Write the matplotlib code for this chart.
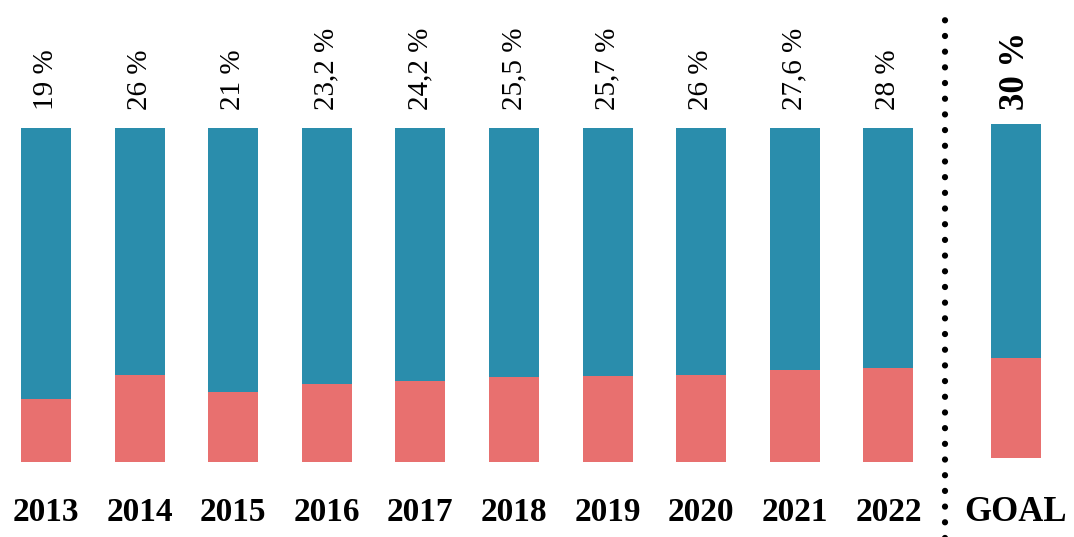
import matplotlib.pyplot as plt
import numpy as np

years = ['2013', '2014', '2015', '2016', '2017', '2018', '2019', '2020', '2021', '2022']
values = [19, 26, 21, 23.2, 24.2, 25.5, 25.7, 26, 27.6, 28]
goal_label = 'GOAL'
goal_value = 30

blue = '#2a8dac'
red = '#e8706f'

plt.rcParams['font.family'] = ['Liberation Serif', 'DejaVu Serif']

fig = plt.figure(figsize=(10.74, 5.37), dpi=100)
ax = fig.add_axes([0, 0, 1, 1])
ax.axis('off')

x = np.arange(len(years))
vals = np.array(values)
w = 0.534

# red part = share, blue = rest up to 100 %
ax.bar(x, vals, w, color=red)
ax.bar(x, 100 - vals, w, bottom=vals, color=blue)

gx = 10.36
ax.bar(gx, goal_value, w, bottom=1.2, color=red)
ax.bar(gx, 100 - goal_value, w, bottom=1.2 + goal_value, color=blue)

def fmt(v):
    s = ('%g' % v).replace('.', ',')
    return s + ' %'

for xi, v in zip(x, values):
    ax.text(xi, 105.5, fmt(v), rotation=90, ha='center', va='bottom', fontsize=21)
ax.text(gx, 105.5, fmt(goal_value), rotation=90, ha='center', va='bottom',
        fontsize=25, fontweight='bold')

for xi, y in zip(x, years):
    ax.text(xi, -15, y, ha='center', va='center', fontsize=24, fontweight='bold')
ax.text(gx, -15, goal_label, ha='center', va='center', fontsize=25,
        fontweight='bold')

# dotted separator
ax.plot([9.61, 9.61], [-23, 133.5], color='black', lw=4.5,
        linestyle=(0, (0.01, 2.5)), dash_capstyle='round')

ax.set_xlim(-0.491, 10.983)
ax.set_ylim(-22.46, 138.3)

fig.savefig('out.png', dpi=100)
